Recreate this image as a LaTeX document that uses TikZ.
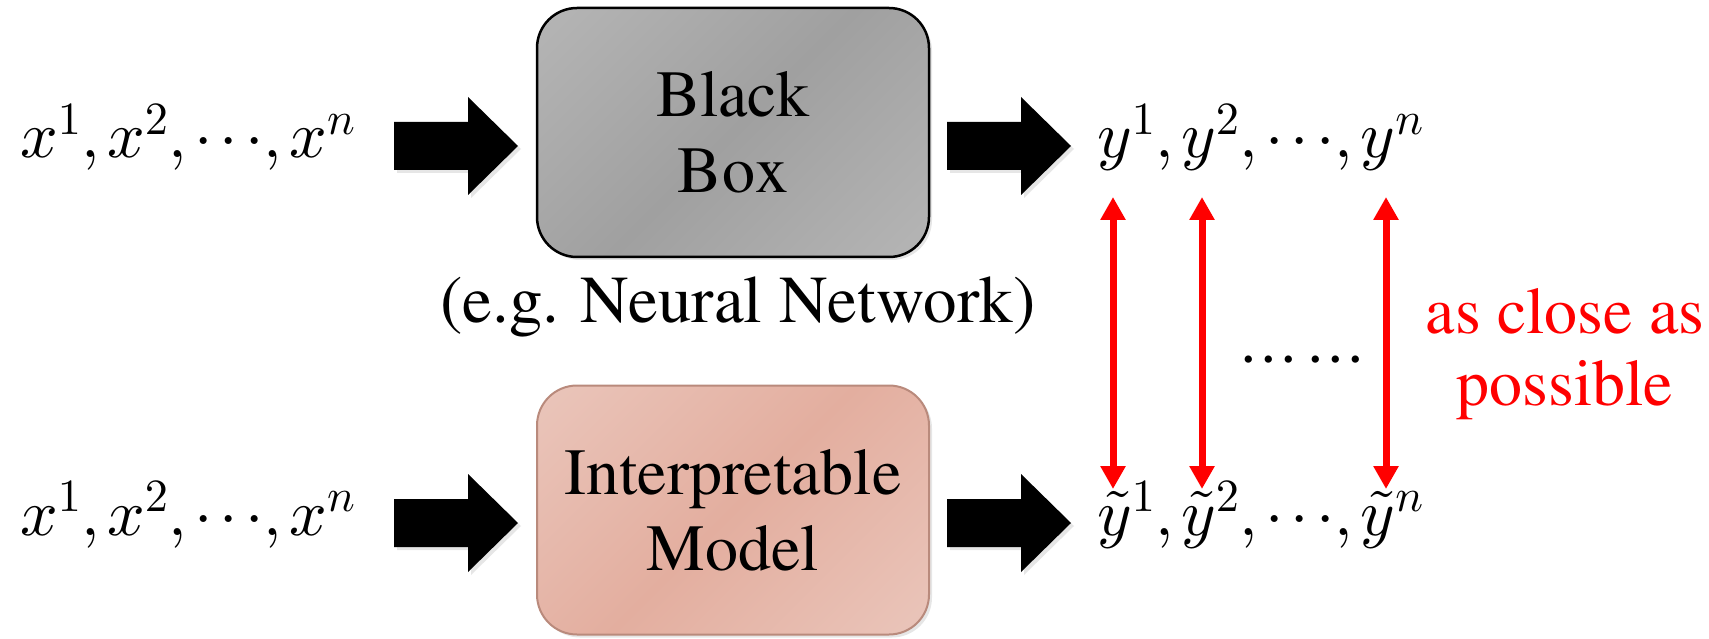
\documentclass[tikz,border=0pt]{standalone}
\usepackage{fontspec}
\DeclareFontShape{OML}{cmm}{m}{it}{<->cmmi10}{}
\DeclareFontShape{OMS}{cmsy}{m}{n}{<->cmsy10}{}
\DeclareFontShape{OMX}{cmex}{m}{n}{<->cmex10}{}
\DeclareFontShape{OT1}{cmr}{m}{n}{<->cmr10}{}
\newcommand\tms{\fontencoding{OT1}\fontfamily{ptm}\selectfont}
\newcommand\seq[1]{$\thinmuskip=2mu #1^1,#1^2,\mathord{\cdots},#1^n$}
\usetikzlibrary{arrows.meta,shadows}
\definecolor{gl}{HTML}{BEBEBE}
\definecolor{gd}{HTML}{A0A0A0}
\definecolor{pl}{HTML}{EDCFC6}
\definecolor{pd}{HTML}{E3AE9F}
\definecolor{pb}{HTML}{B98A7C}
\pgfdeclarehorizontalshading{grayshade}{100bp}{color(0bp)=(gl); color(50bp)=(gd); color(100bp)=(gl)}
\pgfdeclarehorizontalshading{pinkshade}{100bp}{color(0bp)=(pl); color(50bp)=(pd); color(100bp)=(pl)}
\tikzset{
  big/.style={font=\fontsize{66}{76}\tms},
  softshadow/.style={drop shadow={shadow xshift=3pt, shadow yshift=-3pt, opacity=0.2}},
  boxbase/.style={rounded corners=40pt, minimum width=392pt, minimum height=249pt,
    align=center, big, inner sep=0pt, softshadow},
  bbox/.style={boxbase, draw=black, line width=2.5pt, shading=grayshade, shading angle=-45},
  ibox/.style={boxbase, draw=pb, line width=2pt, shading=pinkshade, shading angle=-45},
  mathtxt/.style={anchor=base west, inner sep=0pt, big},
  plain/.style={anchor=base, inner sep=0pt, big},
  cmp/.style={red, line width=7pt,
    {Triangle[width=24pt,length=23pt]}-{Triangle[width=24pt,length=23pt]}},
  blk/.style={fill=black, softshadow},
}
\newcommand\blockarrow[1]{\fill[blk] (#1) ++(0,-24) -- ++(74,0) -- ++(0,-25) -- ++(50,49)
  -- ++(-50,49) -- ++(0,-25) -- ++(-74,0) -- cycle;}
\begin{document}
\begin{tikzpicture}[x=1pt,y=-1pt]
\useasboundingbox (0,0) rectangle (1709,639);
% boxes
\node[bbox] (bb) at (733,132.5) {Black\\Box};
\node[ibox] (im) at (733,510) {Interpretable\\Model};
\node[plain, font=\fontsize{67}{76}\tms] (eg) at (738,323) {(e.g. Neural Network)};
% inputs and outputs
\node[mathtxt] (xt) at (20,158) {\seq{x}};
\node[mathtxt] (xb) at (20,535) {\seq{x}};
\node[mathtxt] (yt) at (1097,158) {\seq{y}};
\node[mathtxt] (yb) at (1097,535) {\seq{\tilde{y}}};
% block arrows
\coordinate (ta1) at (394,146);
\coordinate (ta2) at (947,146);
\coordinate (ba1) at (394,523);
\coordinate (ba2) at (947,523);
\blockarrow{ta1}
\blockarrow{ta2}
\blockarrow{ba1}
\blockarrow{ba2}
% red comparison arrows
\coordinate (r1t) at (1113,197); \coordinate (r1b) at (1113,489);
\coordinate (r2t) at (1202,197); \coordinate (r2b) at (1202,489);
\coordinate (r3t) at (1386,197); \coordinate (r3b) at (1386,489);
\draw[cmp] (r1t) -- (r1b);
\draw[cmp] (r2t) -- (r2b);
\draw[cmp] (r3t) -- (r3b);
\node[plain] (dots) at (1302,362) {.\kern3.5pt.\kern3.5pt.\kern10.5pt.\kern3.5pt.\kern3.5pt.};
\node[plain, red] (close1) at (1565,333) {as close as};
\node[plain, red] (close2) at (1565,405) {possible};
\end{tikzpicture}
\end{document}
